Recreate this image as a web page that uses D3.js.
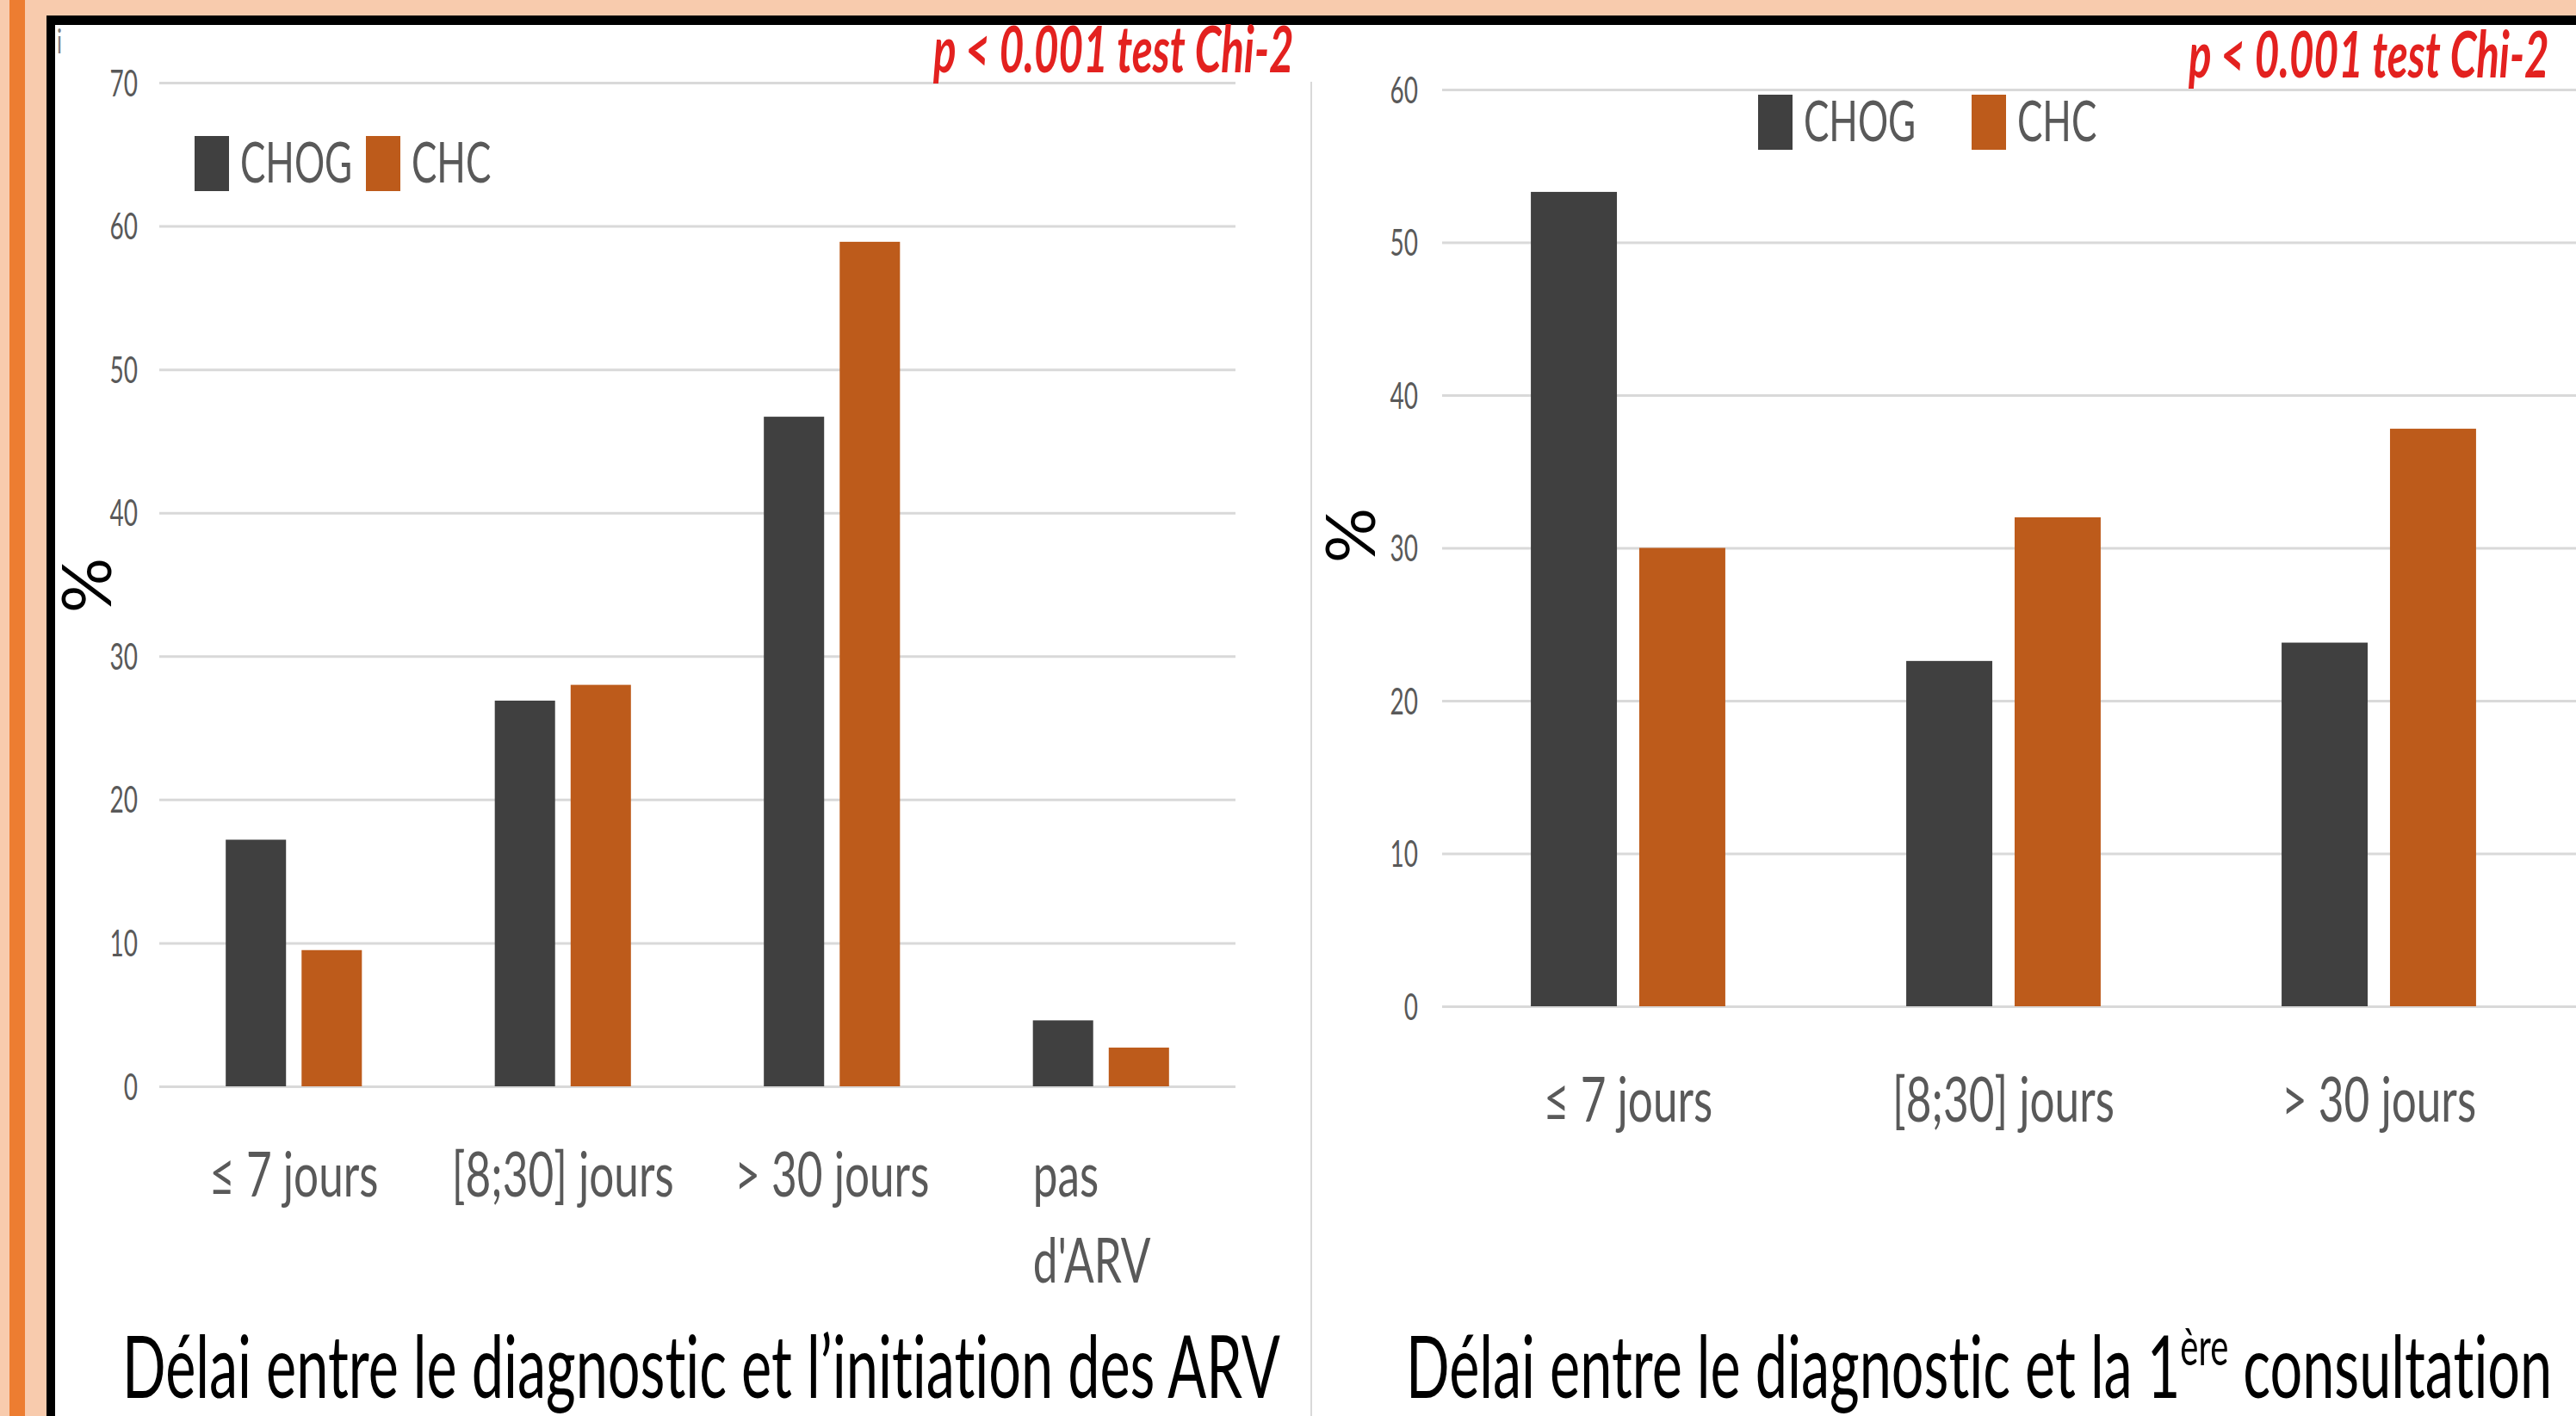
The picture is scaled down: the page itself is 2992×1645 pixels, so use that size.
<!DOCTYPE html>
<html>
<head>
<meta charset="utf-8">
<script src="https://cdn.jsdelivr.net/npm/d3@7"></script>
<style>
  body { margin: 0; background: #fff; }
  svg { display: block; font-family: Lato, "Open Sans", sans-serif; font-variant-ligatures: none; }
</style>
</head>
<body>
<svg id="chart" width="2992" height="1645"></svg>
<script>
// ---- data ----
const series = ["CHOG", "CHC"];

const catsARV = ["≤ 7 jours", "[8;30] jours", "> 30 jours", "pas\nd'ARV"];
const chogARV = [17.2, 26.9, 46.7, 4.6];
const chcARV = [9.5, 28.0, 58.9, 2.7];
const ticksARV = [0, 10, 20, 30, 40, 50, 60, 70];

const catsConsult = ["≤ 7 jours", "[8;30] jours", "> 30 jours"];
const chogConsult = [53.3, 22.6, 23.8];
const chcConsult = [30.0, 32.0, 37.8];
const ticksConsult = [0, 10, 20, 30, 40, 50, 60];

const pText = "p < 0.001 test Chi-2";

const colors = {CHOG: "#404040", CHC: "#BD5B1B"};
const grey = "#595959";

let svg = d3.select("svg#chart");

// ---- frame ----
svg.append("rect").attr("width", 2992).attr("height", 1645).attr("fill", "#F8CBAD");
svg.append("rect").attr("x", 11).attr("width", 18).attr("height", 1645).attr("fill", "#ED7D31");
svg.append("rect").attr("x", 54).attr("y", 18).attr("width", 2992).attr("height", 1700).attr("fill", "#000");
svg.append("rect").attr("x", 64).attr("y", 29).attr("width", 2992).attr("height", 1700).attr("fill", "#fff");

// the original text is squeezed horizontally: measure it from the left title
let probe = svg.append("text").attr("font-size", 100)
    .text("Délai entre le diagnostic et l’initiation des ARV");
let sx = 1345 / probe.node().getComputedTextLength();
probe.remove();

function label(g, x, y, str, size, anchor, k) {
    return g.append("text")
        .attr("transform", "translate(" + x + "," + y + ") scale(" + (sx * (k || 1)) + ",1)")
        .attr("font-size", size)
        .attr("text-anchor", anchor || "start")
        .attr("fill", grey)
        .text(str);
}

// tiny mark in the corner
label(svg, 66, 62, "i", 38).attr("fill", "#7f7f7f");

function drawChart(cfg) {
    let g = svg.append("g");

    let y = d3.scaleLinear().domain(cfg.domain).range([cfg.y0, cfg.yTop]);

    // gridlines + tick labels
    let yAxis = d3.axisLeft(y).tickValues(cfg.ticks).tickSize(-(cfg.gridR - cfg.gridL)).tickPadding(0);
    let ax = g.append("g")
        .attr("transform", "translate(" + cfg.gridL + ",0)")
        .call(yAxis);
    ax.select(".domain").remove();
    ax.selectAll(".tick line").attr("stroke", "#d9d9d9").attr("stroke-width", 3);
    ax.selectAll(".tick text")
        .attr("x", null).attr("dy", "0.36em")
        .attr("transform", "translate(" + (-cfg.tickPad) + ",0) scale(" + sx + ",1)")
        .attr("font-size", 42).attr("font-family", "Lato, sans-serif")
        .attr("fill", grey).attr("text-anchor", "end");

    let x0 = d3.scaleBand().domain(cfg.cats).range(cfg.xRange)
        .paddingInner(1 - cfg.groupFrac).paddingOuter((1 - cfg.groupFrac) / 2);
    let x1 = d3.scaleBand().domain(series).range([0, x0.bandwidth()]).paddingInner(cfg.barPad);

    let rows = cfg.cats.map(function (c, i) {
        return {cat: c, CHOG: cfg.chog[i], CHC: cfg.chc[i]};
    });

    g.append("g").selectAll("g")
        .data(rows)
        .enter().append("g")
        .attr("transform", function (d) { return "translate(" + x0(d.cat) + ",0)"; })
        .selectAll("rect")
        .data(function (d) { return series.map(function (s) { return {key: s, value: d[s]}; }); })
        .enter().append("rect")
        .attr("x", function (d) { return x1(d.key); })
        .attr("width", x1.bandwidth())
        .attr("y", function (d) { return y(d.value); })
        .attr("height", function (d) { return y(0) - y(d.value); })
        .attr("fill", function (d) { return colors[d.key]; });

    // category labels
    cfg.cats.forEach(function (c) {
        let lines = c.split("\n");
        if (lines.length > 1) {
            lines.forEach(function (l, k) {
                label(g, x0(c) + x1("CHOG"), cfg.y0 + cfg.catDy + k * 100, l, 72, "start", 1.07);
            });
        } else {
            label(g, x0(c) + x0.bandwidth() / 2, cfg.y0 + cfg.catDy, c, 72, "middle", 1.07);
        }
    });

    // legend
    series.forEach(function (s, i) {
        g.append("rect")
            .attr("x", cfg.legX[i]).attr("y", cfg.legY)
            .attr("width", 40).attr("height", 64)
            .attr("fill", colors[s]);
        label(g, cfg.legX[i] + 53, cfg.legY + 54, s, 66);
    });

    // % axis title
    g.append("text")
        .attr("transform", "translate(" + cfg.pct[0] + "," + cfg.pct[1] + ") rotate(-90)")
        .attr("font-size", 80).attr("text-anchor", "middle").attr("dy", "0.36em")
        .attr("fill", "#000").text("%");

    // significance note
    label(g, cfg.pX, cfg.pY, pText, 74)
        .attr("fill", "#E3211F").attr("font-weight", "bold").attr("font-style", "italic");

    return g;
}

drawChart({
    cats: catsARV, chog: chogARV, chc: chcARV, ticks: ticksARV, domain: [0, 70],
    y0: 1262, yTop: 96, gridL: 185, gridR: 1435, tickPad: 25,
    xRange: [185, 1435], groupFrac: 0.506, barPad: 0.205,
    catDy: 128, legX: [226, 425], legY: 158, pct: [100, 680],
    pX: 1084, pY: 84
});

drawChart({
    cats: catsConsult, chog: chogConsult, chc: chcConsult, ticks: ticksConsult, domain: [0, 60],
    y0: 1169, yTop: 104, gridL: 1675, gridR: 2992, tickPad: 28,
    xRange: [1673, 2981], groupFrac: 0.518, barPad: 0.206,
    catDy: 134, legX: [2042, 2290], legY: 110, pct: [1568, 622],
    pX: 2542, pY: 90
});

// divider between the two charts
svg.append("line")
    .attr("x1", 1523).attr("x2", 1523).attr("y1", 95).attr("y2", 1645)
    .attr("stroke", "#d9d9d9").attr("stroke-width", 2);

// titles
svg.append("text")
    .attr("transform", "translate(142,1624) scale(" + sx + ",1)")
    .attr("font-size", 100).attr("fill", "#000")
    .text("Délai entre le diagnostic et l’initiation des ARV");

let t2 = svg.append("text")
    .attr("transform", "translate(1633,1624) scale(" + sx + ",1)")
    .attr("font-size", 100).attr("fill", "#000");
t2.append("tspan").text("Délai entre le diagnostic et la 1");
t2.append("tspan").attr("font-size", 60).attr("dy", -38).text("ère");
t2.append("tspan").attr("dy", 38).text(" consultation");
</script>
</body>
</html>
